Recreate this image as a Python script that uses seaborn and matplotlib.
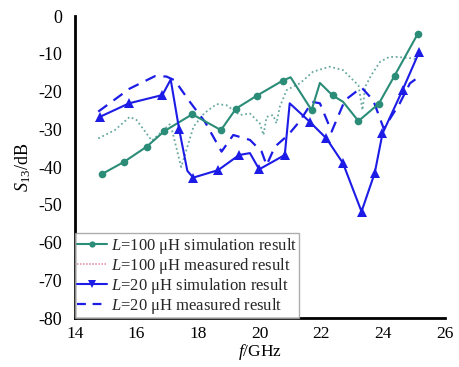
import numpy as np
import pandas as pd
import matplotlib
matplotlib.use("Agg")
import matplotlib.pyplot as plt
import seaborn as sns
from matplotlib.lines import Line2D

# ---- data ----
sim100_f = [14.87, 15.6, 16.33, 16.9, 17.81, 18.74, 19.23, 19.9, 20.74, 21.0, 21.68,
            21.95, 22.36, 22.7, 23.2, 23.86, 24.37, 25.13]
sim100_s = [-41.9, -38.6, -34.6, -30.5, -26.0, -30.2, -24.5, -21.1, -17.1, -16.2, -24.9,
            -17.7, -21.0, -22.7, -27.8, -23.2, -15.8, -4.6]
sim100_marks = [0, 1, 2, 3, 4, 5, 6, 7, 8, 10, 12, 14, 15, 16, 17]

meas100_f = [14.76, 15.3, 15.78, 16.0, 16.5, 17.1, 17.45, 17.85, 18.2, 18.6, 18.92, 19.35,
             19.68, 20.0, 20.12, 20.22, 20.43, 20.54, 20.65, 20.87, 21.08, 21.3, 21.73,
             22.27, 22.7, 23.03, 23.2, 23.33, 23.42, 23.62, 23.9, 24.2, 24.43, 24.97, 25.1]
meas100_s = [-32.4, -30.2, -26.7, -27.5, -33.0, -28.5, -40.0, -29.3, -25.7, -23.3, -23.6,
             -26.2, -25.8, -28.4, -31.5, -26.7, -26.2, -28.4, -24.0, -19.6, -18.7, -17.8,
             -14.7, -13.4, -14.3, -17.0, -18.3, -24.9, -18.7, -15.6, -12.1, -10.8, -10.8,
             -11.2, -11.5]

sim20_f = [14.81, 15.76, 16.84, 17.11, 17.38, 17.65, 17.84, 18.65, 19.33, 19.68, 19.98,
           20.81, 20.97, 21.62, 22.16, 22.7, 23.3, 23.73, 23.98, 24.63, 25.17]
sim20_s = [-26.7, -23.1, -20.9, -16.8, -29.8, -41.0, -42.8, -40.8, -36.8, -36.3, -40.6,
           -36.8, -23.1, -28.0, -32.4, -39.0, -51.8, -41.5, -31.1, -19.6, -9.5]
sim20_marks = [0, 1, 2, 4, 6, 7, 8, 10, 11, 13, 14, 15, 16, 17, 18, 19, 20]

meas20_f = [14.76, 15.78, 16.6, 16.97, 17.24, 17.73, 18.22, 18.76, 19.14, 19.68, 20.06,
            20.22, 20.49, 20.92, 21.3, 21.7, 21.95, 22.33, 22.76, 23.3, 23.68, 24.02,
            24.54, 24.87, 25.19]
meas20_s = [-25.3, -19.2, -15.9, -16.0, -17.0, -22.7, -28.0, -35.9, -31.5, -32.8, -35.9,
            -39.5, -34.6, -31.5, -27.8, -22.7, -23.1, -30.6, -22.3, -18.9, -22.3, -29.8,
            -23.1, -17.8, -15.9]

labels = ["$L$=100 μH simulation result", "$L$=100 μH measured result",
          "$L$=20 μH simulation result", "$L$=20 μH measured result"]
x_ticks = [14, 16, 18, 20, 22, 24, 26]
y_ticks = [0, -10, -20, -30, -40, -50, -60, -70, -80]

# ---- style ----
sns.set_theme(style="white")
plt.rcParams["font.family"] = ["Liberation Serif", "DejaVu Serif"]
plt.rcParams["mathtext.fontset"] = "custom"
plt.rcParams["mathtext.rm"] = "Liberation Serif"
plt.rcParams["mathtext.it"] = "Liberation Serif:italic"
plt.rcParams["axes.unicode_minus"] = False

green = "#2b8c78"
dotted_col = "#6aaaa2"
blue = "#1c1ce6"
pink = "#e0869a"

fig = plt.figure(figsize=(4.59, 3.67), dpi=100)
ax = fig.add_axes([0.163, 0.1335, 0.806, 0.8225])

sns.lineplot(x=meas100_f, y=meas100_s, ax=ax, color=dotted_col, lw=1.3,
             linestyle=(0, (1, 1.5)), sort=False)
sns.lineplot(x=meas20_f, y=meas20_s, ax=ax, color=blue, lw=1.6,
             linestyle=(0, (5, 3.5)), sort=False)
sns.lineplot(x=sim100_f, y=sim100_s, ax=ax, color=green, lw=1.5, marker="o",
             markersize=5.5, markeredgewidth=0, markevery=sim100_marks, sort=False)
sns.lineplot(x=sim20_f, y=sim20_s, ax=ax, color=blue, lw=1.5, marker="^",
             markersize=6.5, markeredgewidth=0, markevery=sim20_marks, sort=False)

ax.set_xlim(14, 26)
ax.set_ylim(-80, 0)
ax.set_xticks(x_ticks)
ax.set_yticks(y_ticks)
ax.set_xticklabels([str(t) for t in x_ticks], fontsize=12.5)
ax.set_yticklabels([str(t) for t in y_ticks], fontsize=13)
ax.tick_params(direction="in", length=5, width=1.6, colors="black")
ax.tick_params(axis="x", pad=6)
ax.tick_params(axis="y", pad=9)
for s in ["top", "right"]:
    ax.spines[s].set_visible(False)
for s in ["left", "bottom"]:
    ax.spines[s].set_color("black")
    ax.spines[s].set_linewidth(2.0)

ax.set_xlabel("$f$/GHz", fontsize=12.5, labelpad=0, color="black")
ax.set_ylabel("$S_{13}$/dB", fontsize=13, labelpad=4, color="black")

handles = [
    Line2D([], [], color=green, lw=1.5, marker="o", markersize=4.5, markeredgewidth=0),
    Line2D([], [], color=pink, lw=1.1, linestyle=(0, (1, 1))),
    Line2D([], [], color=blue, lw=1.5, marker="v", markersize=5.5, markeredgewidth=0),
    Line2D([], [], color=blue, lw=1.6, linestyle=(0, (4, 3))),
]
leg = ax.legend(handles, labels, loc="lower left", bbox_to_anchor=(0.0, 0.0),
                borderaxespad=0, fontsize=12, frameon=True, fancybox=False,
                handlelength=1.8, handletextpad=0.2, labelspacing=0.0,
                borderpad=0.15)
leg.get_frame().set_edgecolor("#999999")
leg.get_frame().set_linewidth(1.0)

fig.savefig("out.png", dpi=100, facecolor="white")
